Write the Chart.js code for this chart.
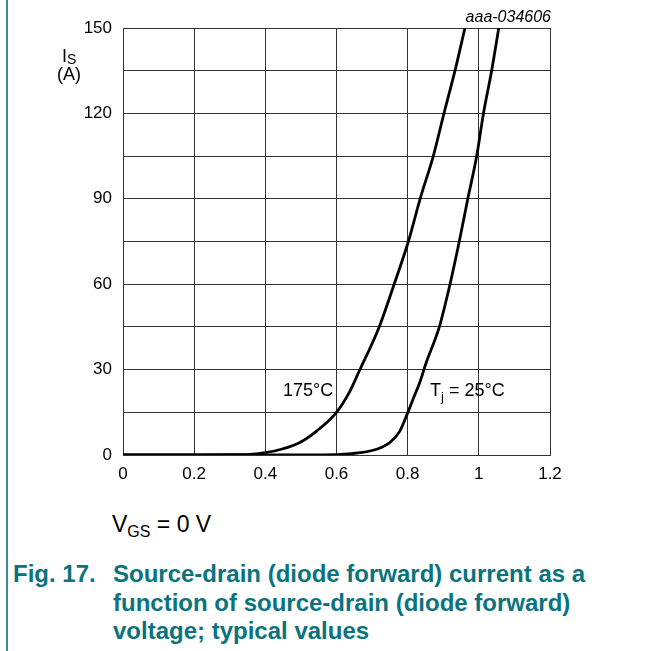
<!DOCTYPE html>
<html>
<head>
<meta charset="utf-8">
<script src="https://cdn.jsdelivr.net/npm/chart.js@4"></script>
<style>
  html, body { margin: 0; padding: 0; background: #fff; }
  body { width: 667px; height: 651px; position: relative; overflow: hidden; font-family: "Liberation Sans", Arial, sans-serif; }
  #wrap { position: absolute; left: 0; top: 0; width: 667px; height: 480px; }
  .bar { position: absolute; left: 6px; top: 0; width: 2px; height: 651px; background: #3b8a94; }
  .vgs { position: absolute; left: 112px; top: 511px; font-size: 23px; line-height: 26px; color: #000; white-space: nowrap; }
  .vgs sub { font-size: 16px; vertical-align: -5px; line-height: 0; }
  .cap { position: absolute; left: 13px; top: 560px; font-size: 24px; font-weight: bold; color: #0a737d; line-height: 28.5px; white-space: nowrap; }
  .cap .num { position: absolute; left: 0; top: 0; }
  .cap .txt { position: absolute; left: 100px; top: 0; }
</style>
</head>
<body>
<div class="bar"></div>
<div id="wrap"><canvas id="grafico"></canvas></div>
<div class="vgs">V<sub>GS</sub> = 0 V</div>
<div class="cap">
  <div class="num">Fig. 17.</div>
  <div class="txt">Source-drain (diode forward) current as a<br>function of source-drain (diode forward)<br>voltage; typical values</div>
</div>
<script>
// Curva Tj = 175°C
const vsd175 = [0, 0.2, 0.3, 0.357, 0.4, 0.45, 0.497, 0.544, 0.6, 0.636, 0.664, 0.72, 0.762, 0.802, 0.835, 0.872, 0.902, 0.933, 0.961];
const is175 = [0, 0.03, 0.1, 0.25, 0.8, 2.2, 4.4, 8.4, 15, 22, 29.5, 45, 60, 75, 90, 105, 120, 135, 150];

// Curva Tj = 25°C
const vsd25 = [0, 0.4, 0.6, 0.666, 0.717, 0.75, 0.778, 0.8, 0.815, 0.834, 0.852, 0.889, 0.919, 0.945, 0.969, 0.994, 1.013, 1.036, 1.056];
const is25 = [0, 0.02, 0.15, 0.8, 2.2, 4.4, 8.4, 14.8, 19.6, 25.5, 32.4, 45, 60, 75, 90, 105, 120, 135, 150];

// Eixos
const xTicks = [0, 0.2, 0.4, 0.6, 0.8, 1, 1.2];
const yTicks = [0, 30, 60, 90, 120, 150];

const toPoints = (xs, ys) => xs.map((x, i) => ({ x: x, y: ys[i] }));

const fonte = { family: "'Liberation Sans', Arial, sans-serif", size: 17 };

// Textos dentro e em volta do gráfico
const textos = {
  id: 'textos',
  afterDraw(chart) {
    const ctx = chart.ctx;
    const fam = fonte.family;
    ctx.save();
    ctx.fillStyle = '#000';
    ctx.textBaseline = 'alphabetic';

    // rótulos das curvas
    ctx.font = '18px ' + fam;
    ctx.textAlign = 'left';
    ctx.fillText('175°C', 283, 396);
    ctx.fillText('T', 430, 396);
    ctx.font = '13px ' + fam;
    ctx.fillText('j', 441, 401);
    ctx.font = '18px ' + fam;
    ctx.fillText(' = 25°C', 444, 396);

    // I_S (A)
    ctx.fillText('I', 62, 62);
    ctx.font = '14px ' + fam;
    ctx.fillText('S', 67, 64);
    ctx.font = '18px ' + fam;
    ctx.textAlign = 'center';
    ctx.fillText('(A)', 69, 80);

    // V_SD (V)
    ctx.textAlign = 'left';
    ctx.fillText('V', 432, 498);
    ctx.font = '14px ' + fam;
    ctx.fillText('SD', 444, 503);
    ctx.font = '18px ' + fam;
    ctx.fillText(' (V)', 464, 498);

    // código da figura
    ctx.font = 'italic 16px ' + fam;
    ctx.textAlign = 'right';
    ctx.fillText('aaa-034606', 551, 22);
    ctx.restore();
  }
};

const linha = {
  borderColor: '#000',
  borderWidth: 2.8,
  pointRadius: 0,
  showLine: true,
  fill: false,
  cubicInterpolationMode: 'monotone'
};

new Chart(document.getElementById('grafico'), {
  type: 'scatter',
  data: {
    datasets: [
      { ...linha, label: '175°C', data: toPoints(vsd175, is175) },
      { ...linha, label: '25°C', data: toPoints(vsd25, is25) }
    ]
  },
  options: {
    responsive: true,
    maintainAspectRatio: false,
    animation: false,
    layout: { padding: { left: 0, right: 117, top: 28, bottom: 0 } },
    plugins: { legend: { display: false }, tooltip: { enabled: false } },
    scales: {
      x: {
        type: 'linear',
        min: 0,
        max: 1.2,
        afterFit: s => { s.height = 25; },
        afterBuildTicks: s => { s.ticks = xTicks.map(v => ({ value: v })); },
        ticks: {
          color: '#000',
          font: fonte,
          padding: 9,
          maxRotation: 0,
          callback: v => String(Math.round(v * 10) / 10)
        },
        grid: { color: '#333', lineWidth: 1, drawTicks: false },
        border: { color: '#333' }
      },
      y: {
        min: 0,
        max: 150,
        afterFit: s => { s.width = 123; },
        ticks: {
          stepSize: 15,
          color: '#000',
          font: fonte,
          padding: 11,
          callback: v => (yTicks.includes(v) ? String(v) : '')
        },
        grid: { color: '#333', lineWidth: 1, drawTicks: false },
        border: { color: '#333' }
      }
    }
  },
  plugins: [textos]
});
</script>
</body>
</html>
